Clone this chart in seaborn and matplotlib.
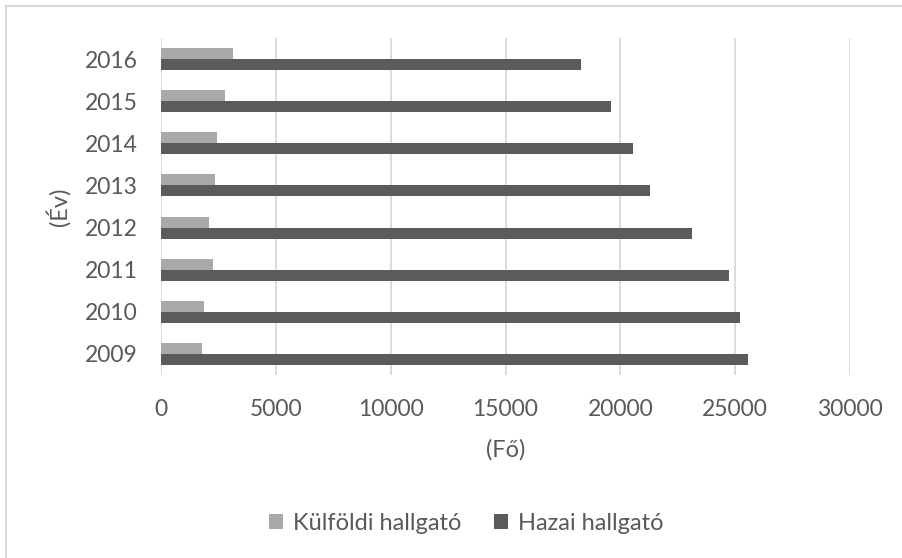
import matplotlib
matplotlib.use("Agg")
import matplotlib.pyplot as plt
from matplotlib.lines import Line2D
import seaborn as sns
import pandas as pd

years = ["2016", "2015", "2014", "2013", "2012", "2011", "2010", "2009"]
kulfoldi = [3130, 2790, 2430, 2330, 2080, 2260, 1890, 1780]
hazai = [18290, 19600, 20560, 21270, 23110, 24720, 25230, 25550]
series_names = ["Külföldi hallgató", "Hazai hallgató"]
xticks = [0, 5000, 10000, 15000, 20000, 25000, 30000]

df = pd.DataFrame({
    "Év": years * 2,
    "Fő": kulfoldi + hazai,
    "Sorozat": [series_names[0]] * len(years) + [series_names[1]] * len(years),
})

sns.set_theme(style="white")
plt.rcParams["font.family"] = ["Lato", "DejaVu Sans"]

W, H = 902, 558
fig = plt.figure(figsize=(W / 100, H / 100), dpi=100)
ax = fig.add_axes([161 / W, 1 - 375 / H, (850 - 161) / W, (375 - 38) / H])

sns.barplot(data=df, x="Fő", y="Év", hue="Sorozat", order=years,
            hue_order=series_names, palette=["#A9A9A9", "#5B5B5B"],
            orient="h", width=0.52, ax=ax, saturation=1, edgecolor="none")

ax.set_xlim(0, 30000)
ax.set_xticks(xticks)
ax.set_xticklabels([str(t) for t in xticks])
ax.grid(axis="x", color="#D9D9D9", linewidth=1.3)
ax.grid(axis="y", visible=False)
ax.set_axisbelow(True)
for s in ax.spines.values():
    s.set_visible(False)
ax.tick_params(axis="both", length=0, labelsize=16.5, colors="#595959")
ax.tick_params(axis="y", pad=17)
ax.tick_params(axis="x", pad=17)
ax.set_xlabel("(Fő)", fontsize=17, color="#595959", labelpad=14)
ax.set_ylabel("(Év)", fontsize=17, color="#595959", labelpad=10)

sns.move_legend(ax, "center", bbox_to_anchor=(466 / W, 1 - 523 / H),
                bbox_transform=fig.transFigure, ncol=2, frameon=False,
                title=None, fontsize=17, handlelength=0.6, handleheight=0.6,
                handletextpad=0.4, columnspacing=1.4)
for t in ax.get_legend().get_texts():
    t.set_color("#595959")

# chart border (top and left visible)
fig.add_artist(Line2D([6 / W, 1.0], [1 - 6 / H, 1 - 6 / H],
                      transform=fig.transFigure, color="#D9D9D9", linewidth=1.5))
fig.add_artist(Line2D([6 / W, 6 / W], [0.0, 1 - 6 / H],
                      transform=fig.transFigure, color="#D9D9D9", linewidth=1.5))

fig.savefig("out.png", dpi=100, facecolor="white")
